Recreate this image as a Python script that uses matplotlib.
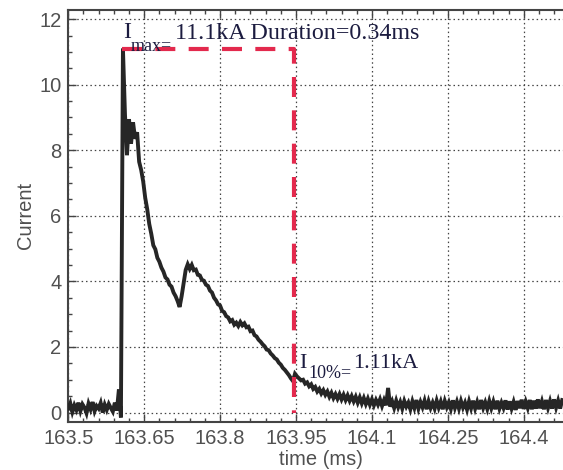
import numpy as np
import matplotlib
matplotlib.use("Agg")
import matplotlib.pyplot as plt
from matplotlib.ticker import MultipleLocator

# sampled current trace (kA), one sample every dt ms starting at t0
t0 = 163.500
dt = 0.004
current = [
    # baseline before the strike
    0.12, 0.28, 0.02, 0.22, 0.08, 0.30, 0.05, 0.25, 0.15, -0.02,
    0.27, 0.10, 0.32, 0.04, 0.20, 0.12, 0.29, 0.00, 0.24, 0.08,
    0.26, 0.14, 0.03, 0.30, 0.06, 0.70, -0.15,
    # peak and fast decay
    11.10, 9.10, 7.85, 8.95, 8.20, 8.85, 8.35, 8.55, 7.65, 7.40,
    7.05, 6.55, 6.20, 5.75, 5.45, 5.10, 4.98, 4.72, 4.60, 4.42,
    4.30, 4.12, 4.06, 3.90, 3.84, 3.66, 3.55, 3.40, 3.22, 3.55,
    3.95, 4.35, 4.52, 4.38,
    # second hump and slow decay
    4.50, 4.34, 4.36, 4.20, 4.18, 4.05, 4.02, 3.90, 3.86, 3.72,
    3.66, 3.50, 3.42, 3.30, 3.26, 3.10, 3.06, 2.94, 2.90, 2.78,
    2.82, 2.68, 2.74, 2.64, 2.76, 2.66, 2.72, 2.60, 2.62, 2.48,
    2.50, 2.36, 2.32, 2.22, 2.16, 2.08, 2.02, 1.92, 1.90, 1.80,
    1.74, 1.66, 1.62, 1.52, 1.46, 1.36, 1.30, 1.22, 1.14, 1.04,
    0.96, 1.18, 1.10, 1.04, 0.98, 1.00, 0.88, 0.92, 0.80, 0.86,
    0.72, 0.78, 0.64, 0.72, 0.58, 0.68, 0.54, 0.64, 0.48, 0.60,
    0.44, 0.56, 0.42, 0.56, 0.40, 0.54, 0.38, 0.52, 0.36, 0.50,
    0.34, 0.48, 0.30, 0.46, 0.28, 0.44,
    # tail
    0.26, 0.42, 0.24, 0.40, 0.22, 0.38, 0.24, 0.40, 0.20, 0.38,
    0.22, 0.75, 0.18, 0.34, 0.14, 0.36, 0.16, 0.32, 0.12, 0.35,
    0.18, 0.30, 0.10, 0.34, 0.14, 0.38, 0.12, 0.32, 0.16, 0.36,
    0.10, 0.34, 0.14, 0.30, 0.12, 0.36, 0.15, 0.33, 0.10, 0.35,
    0.16, 0.31, 0.11, 0.37, 0.14, 0.33, 0.12, 0.35, 0.15, 0.30,
    0.09, 0.34, 0.13, 0.36, 0.12, 0.32, 0.10, 0.38, 0.14, 0.31,
    0.11, 0.35, 0.13, 0.33, 0.10, 0.36, 0.12, 0.30, 0.14, 0.37,
    0.09, 0.34, 0.12, 0.32, 0.08, 0.35, 0.13, 0.39, 0.11, 0.33,
    0.14, 0.38, 0.10, 0.36, 0.12, 0.40, 0.13, 0.34, 0.10, 0.38,
    0.14, 0.35, 0.12, 0.40, 0.15, 0.36, 0.12, 0.38,
]
time = t0 + dt * np.arange(len(current))

# marker values
i_max = 11.1
t_peak = 163.607
t_end = 163.947
i_10 = 1.11
duration = 0.34

xticks = [163.5, 163.65, 163.8, 163.95, 164.1, 164.25, 164.4]
xticklabels = ["163.5", "163.65", "163.8", "163.95", "164.1", "164.25", "164.4"]
yticks = [0, 2, 4, 6, 8, 10, 12]

plt.rcParams['font.family'] = ['Liberation Sans', 'DejaVu Sans']

fig = plt.figure(figsize=(5.63, 4.70), dpi=100)
ax = fig.add_axes([0.1213, 0.1028, 1.0201 - 0.1213, 0.876])

ax.plot(time, current, color='#262626', lw=2.8, solid_joinstyle='miter', zorder=3)

# Imax box: horizontal at peak, vertical at 10% point
ax.plot([t_peak, t_end, t_end], [i_max, i_max, 0], color='#e3294d', lw=3,
        dashes=(4.8, 3.2), zorder=4)

tc = '#1c1c40'
serif = ['Liberation Serif', 'DejaVu Serif']
ax.text(163.6083, 11.43, "I", fontsize=17, family=serif, color=tc, va='baseline', zorder=5)
ax.text(163.624, 11.02, "max=", fontsize=13, family=serif, color=tc, va='baseline', zorder=5)
ax.text(163.711, 11.40, "%.1fkA Duration=%.2fms" % (i_max, duration), fontsize=17.3,
        family=serif, color=tc, va='baseline', zorder=5)
ax.text(163.956, 1.36, "I", fontsize=16, family=serif, color=tc, va='baseline', zorder=5)
ax.text(163.974, 1.05, "10%=", fontsize=13, family=serif, color=tc, va='baseline', zorder=5)
ax.text(164.063, 1.36, "%.2fkA" % i_10, fontsize=16, family=serif, color=tc,
        va='baseline', zorder=5)

ax.set_xlim(163.5, 164.5)
ax.set_ylim(-0.28, 12.28)
ax.set_xticks(xticks)
ax.set_xticklabels(xticklabels)
ax.set_yticks(yticks)
ax.xaxis.set_minor_locator(MultipleLocator(0.03))
ax.yaxis.set_minor_locator(MultipleLocator(0.5))

ax.grid(True, which='major', color='#444444', linestyle=(0, (1.2, 2.3)), lw=0.9)
ax.tick_params(which='both', direction='in', top=True, right=True,
               colors='#444444', labelcolor='#505050', labelsize=14.5, width=1)
ax.tick_params(which='major', length=6, pad=5)
ax.tick_params(which='minor', length=3)
for s in ax.spines.values():
    s.set_color('#444444')
    s.set_linewidth(1.5)

ax.set_xlabel("time (ms)", fontsize=14.5, color='#505050', labelpad=2)
ax.set_ylabel("Current", fontsize=14.5, color='#505050', labelpad=3)

fig.savefig("out.png", dpi=100)
